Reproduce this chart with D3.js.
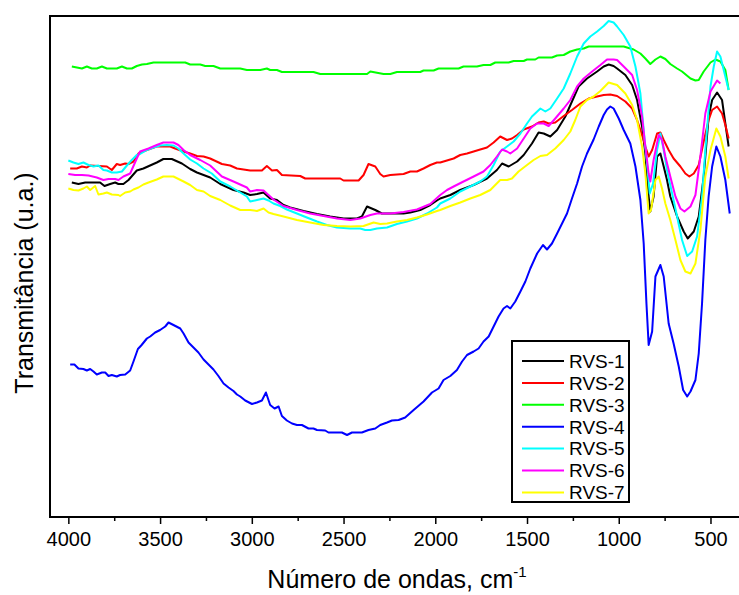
<!DOCTYPE html>
<html>
<head>
<meta charset="utf-8">
<script src="https://cdn.jsdelivr.net/npm/d3@7"></script>
<style>
  body { margin: 0; background: #fff; }
  svg { display: block; }
  text { font-family: "Liberation Sans", Arial, sans-serif; fill: #000; }
</style>
</head>
<body>
<div id="chart"></div>
<script>
// FTIR spectra, [wavenumber cm-1, transmittance u.a.]
var rvs1 = [[3981,66.9],[3945,66.6],[3908,66.9],[3827,66.9],[3803,66.2],[3772,66.6],[3745,66.9],[3727,66.6],[3700,66.6],[3672,67.4],[3627,69.3],[3591,69.7],[3518,70.9],[3482,71.6],[3436,71.6],[3381,70.7],[3336,69.6],[3299,68.9],[3227,67.9],[3172,66.6],[3100,65.4],[3045,64.9],[3009,64.4],[2972,64.6],[2936,64.9],[2918,64.3],[2900,63.7],[2863,63.4],[2827,62.4],[2791,61.9],[2718,61.2],[2645,60.6],[2573,60.1],[2500,59.7],[2427,59.7],[2400,60.1],[2372,62.1],[2327,61.4],[2291,60.7],[2245,60.7],[2173,60.7],[2136,60.9],[2082,61.4],[2027,62.4],[1991,63.3],[1973,63.7],[1918,64.4],[1864,65.4],[1791,66.4],[1718,67.7],[1664,69.4],[1636,70.7],[1600,70.1],[1554,71.1],[1518,72.4],[1473,74.7],[1437,76.9],[1409,76.7],[1373,76.1],[1336,77.4],[1291,80.1],[1255,83.1],[1219,86.1],[1173,87.7],[1118,89.1],[1082,90.1],[1055,90.5],[1028,90.2],[1009,89.7],[964,88.4],[927,86.4],[900,83.4],[873,78.1],[855,72.7],[837,64.1],[828,61.1],[810,64.1],[791,72.1],[773,72.7],[755,70.1],[737,67.4],[719,64.1],[682,60.1],[646,57.1],[624,55.7],[591,57.1],[564,60.1],[537,68.1],[510,80.1],[491,83.4],[464,84.9],[437,83.4],[419,78.7],[401,74.1]];

var rvs2 = [[3990,69.7],[3954,69.7],[3926,70.1],[3899,69.9],[3881,70.3],[3790,70.1],[3763,69.4],[3736,70.6],[3718,70.4],[3690,70.7],[3672,70.6],[3645,71.1],[3618,72.7],[3572,73.4],[3518,74.1],[3445,74.1],[3418,73.7],[3372,73.1],[3336,72.7],[3299,72.2],[3263,72.1],[3227,71.7],[3163,70.6],[3118,70.3],[3081,69.7],[3027,69.4],[3009,69.3],[2945,69.3],[2918,70.2],[2890,69.3],[2863,69.4],[2836,68.4],[2736,68.2],[2709,67.7],[2518,67.7],[2500,67.3],[2418,67.3],[2391,68.4],[2364,70.6],[2327,70.1],[2300,68.6],[2282,68.1],[2245,68.4],[2173,68.6],[2136,69.1],[2100,69.1],[2064,69.7],[2027,70.4],[1991,70.9],[1973,70.9],[1900,71.7],[1864,72.4],[1827,72.7],[1791,73.1],[1755,73.5],[1718,73.9],[1682,74.9],[1646,76.1],[1609,75.4],[1582,75.7],[1554,76.4],[1518,77.5],[1473,78.1],[1437,78.9],[1409,79.1],[1382,78.7],[1346,78.9],[1300,80.2],[1255,81.4],[1209,82.7],[1164,83.7],[1118,84.1],[1082,84.4],[1046,84.5],[1009,84.2],[964,83.1],[927,81.7],[900,79.4],[873,76.4],[855,74.1],[837,72.1],[818,73.4],[791,76.7],[773,76.9],[755,75.4],[728,73.4],[701,71.7],[664,70.1],[637,68.7],[615,68.1],[591,68.7],[564,70.4],[537,75.1],[510,79.4],[491,81.4],[464,82.1],[437,80.7],[419,78.4],[401,75.7]];

var rvs3 = [[3981,90.1],[3926,89.7],[3899,90.1],[3872,89.7],[3845,89.7],[3817,90.1],[3790,89.7],[3736,89.7],[3708,90.1],[3681,89.7],[3654,89.7],[3627,90.2],[3599,90.5],[3572,90.6],[3536,90.9],[3363,90.9],[3336,90.5],[3281,90.5],[3254,90.2],[3209,90.2],[3172,89.7],[3063,89.7],[3027,89.4],[2954,89.4],[2918,89.7],[2900,89.4],[2863,89.4],[2836,89.0],[2664,89.0],[2627,88.6],[2372,88.6],[2354,89.1],[2282,88.6],[2245,88.6],[2209,89.0],[2082,89.0],[2064,89.3],[2009,89.3],[1982,89.7],[1873,89.7],[1846,90.1],[1773,90.1],[1737,90.4],[1700,90.4],[1673,90.9],[1600,90.9],[1573,91.2],[1518,91.2],[1500,91.5],[1455,91.5],[1437,91.9],[1364,91.9],[1336,92.3],[1300,92.4],[1264,93.1],[1227,93.5],[1191,93.7],[1164,94.1],[973,94.1],[919,93.5],[882,92.7],[855,91.7],[828,90.6],[800,91.5],[773,92.1],[746,91.6],[719,90.6],[682,89.7],[655,89.1],[609,87.7],[582,87.3],[564,87.4],[537,89.1],[500,90.9],[473,91.5],[446,91.1],[419,89.4],[401,85.4]];

var rvs4 = [[3990,30.5],[3967,30.5],[3945,29.7],[3918,29.6],[3899,29.3],[3881,29.6],[3863,29.1],[3845,28.5],[3817,28.9],[3799,28.9],[3781,28.2],[3763,28.4],[3736,28.1],[3718,28.4],[3690,28.5],[3663,29.3],[3645,31.1],[3621,33.6],[3603,34.3],[3572,35.7],[3554,36.1],[3527,36.9],[3500,37.4],[3472,38.1],[3454,38.9],[3427,38.4],[3390,37.7],[3372,36.7],[3345,34.9],[3318,33.9],[3291,32.9],[3263,31.5],[3236,30.5],[3209,29.5],[3182,28.2],[3154,26.7],[3127,25.9],[3100,25.2],[3081,24.5],[3063,24.1],[3036,23.3],[2999,22.6],[2972,22.9],[2945,23.3],[2923,24.9],[2900,22.4],[2876,21.7],[2854,22.1],[2836,20.2],[2809,19.3],[2781,18.7],[2754,18.4],[2727,18.4],[2691,17.7],[2664,17.7],[2645,17.4],[2600,17.3],[2582,16.9],[2509,16.9],[2481,16.4],[2454,16.9],[2400,16.9],[2364,17.4],[2327,17.7],[2300,18.4],[2263,18.9],[2236,19.3],[2200,19.4],[2164,19.9],[2118,21.4],[2064,23.1],[2018,24.9],[1982,25.7],[1955,27.4],[1918,28.2],[1882,29.4],[1854,31.1],[1827,32.4],[1791,33.1],[1764,33.7],[1737,35.1],[1709,36.1],[1682,38.1],[1655,40.1],[1628,41.7],[1609,42.2],[1591,41.7],[1564,43.1],[1536,45.1],[1509,47.1],[1482,49.7],[1445,52.7],[1413,54.4],[1391,53.5],[1364,54.7],[1336,56.7],[1309,58.7],[1282,60.7],[1255,63.7],[1227,66.7],[1200,70.1],[1173,72.7],[1155,74.1],[1137,75.5],[1109,78.1],[1082,80.4],[1064,81.5],[1046,82.1],[1028,81.7],[1000,79.7],[973,77.4],[937,74.7],[909,70.1],[882,63.4],[864,54.7],[849,42.7],[837,34.4],[818,37.1],[800,48.1],[773,50.4],[755,48.1],[728,38.7],[701,34.7],[673,30.1],[649,25.4],[627,24.1],[609,25.1],[582,27.4],[564,32.7],[546,42.7],[528,55.4],[510,64.1],[491,70.1],[468,74.1],[446,72.1],[419,67.4],[395,60.7]];

var rvs5 = [[4000,71.3],[3972,70.9],[3945,70.6],[3918,70.9],[3890,70.4],[3863,70.1],[3836,70.3],[3809,69.4],[3790,69.3],[3763,68.9],[3736,68.9],[3708,69.1],[3681,70.3],[3654,71.4],[3627,72.4],[3609,72.6],[3572,73.4],[3536,73.9],[3500,74.3],[3463,74.4],[3427,74.3],[3400,73.7],[3372,72.7],[3336,71.5],[3299,70.7],[3263,69.7],[3218,68.7],[3172,67.1],[3118,66.1],[3063,64.9],[3027,64.1],[3009,63.1],[2972,63.4],[2936,63.7],[2909,63.3],[2882,62.7],[2845,62.2],[2809,61.5],[2754,60.7],[2700,59.9],[2645,59.1],[2591,58.4],[2536,57.9],[2463,57.7],[2409,57.7],[2382,57.4],[2354,57.4],[2318,57.7],[2263,57.9],[2209,58.6],[2154,59.1],[2100,59.7],[2045,60.7],[1991,61.9],[1973,62.7],[1918,63.7],[1864,65.1],[1809,66.1],[1755,67.1],[1718,68.1],[1682,70.4],[1646,73.1],[1609,74.1],[1573,75.1],[1536,76.7],[1500,78.7],[1473,80.1],[1427,81.7],[1400,81.1],[1373,81.7],[1336,83.7],[1300,85.7],[1264,88.7],[1227,92.1],[1191,94.7],[1155,96.1],[1118,97.1],[1082,98.2],[1055,99.2],[1028,98.9],[1009,98.1],[973,96.4],[937,94.1],[909,90.1],[882,84.7],[864,77.4],[846,70.7],[831,64.7],[813,66.7],[791,73.4],[773,76.7],[755,73.4],[737,69.4],[709,64.7],[682,60.1],[655,55.4],[627,52.2],[600,53.1],[573,56.1],[546,64.1],[528,73.4],[500,86.1],[482,90.1],[464,93.1],[446,92.1],[419,88.1],[401,85.4]];

var rvs6 = [[4000,68.6],[3963,68.4],[3926,68.4],[3890,68.3],[3845,67.9],[3809,67.4],[3781,67.6],[3745,67.6],[3727,67.4],[3700,68.1],[3663,68.7],[3627,71.7],[3609,73.1],[3563,73.7],[3518,74.4],[3482,74.9],[3427,74.9],[3400,74.4],[3372,73.4],[3336,72.4],[3281,71.4],[3227,70.3],[3163,68.1],[3100,67.1],[3027,65.9],[3009,65.1],[2972,65.4],[2936,65.3],[2909,64.4],[2882,63.5],[2827,62.2],[2754,61.4],[2682,60.7],[2609,60.2],[2536,59.7],[2463,59.4],[2409,59.7],[2354,60.4],[2318,60.7],[2245,60.7],[2173,61.0],[2100,61.5],[2027,62.6],[1973,64.4],[1936,65.4],[1900,66.1],[1846,67.1],[1791,68.1],[1737,69.1],[1700,70.4],[1664,72.1],[1636,73.5],[1609,73.1],[1591,72.7],[1554,73.7],[1518,75.7],[1482,77.7],[1445,78.7],[1409,78.7],[1382,78.2],[1346,79.7],[1300,81.7],[1264,83.4],[1227,86.1],[1191,87.7],[1145,89.1],[1100,90.4],[1064,91.5],[1028,91.5],[1009,91.4],[973,90.1],[927,88.4],[900,85.4],[873,80.1],[855,74.1],[837,68.7],[828,67.1],[810,71.4],[782,76.4],[764,75.4],[746,72.1],[719,68.1],[691,64.1],[664,61.7],[642,61.1],[609,62.1],[582,64.4],[555,72.1],[528,80.7],[500,85.1],[464,87.3],[446,86.7]];

var rvs7 = [[4000,65.7],[3972,65.4],[3945,65.3],[3918,65.7],[3899,66.1],[3881,65.4],[3854,66.2],[3836,64.5],[3809,64.7],[3790,64.9],[3763,64.5],[3727,64.4],[3718,64.2],[3690,64.9],[3663,65.1],[3645,65.5],[3618,65.9],[3591,66.5],[3563,66.9],[3518,67.5],[3482,68.1],[3427,68.1],[3372,67.1],[3336,66.4],[3299,65.4],[3263,65.1],[3227,64.2],[3172,63.4],[3118,62.3],[3063,61.4],[3009,61.4],[2972,61.2],[2936,61.7],[2909,60.9],[2882,60.6],[2827,60.1],[2754,59.4],[2682,58.9],[2609,58.4],[2536,58.2],[2463,58.1],[2391,58.2],[2336,58.9],[2300,58.6],[2263,58.7],[2209,59.1],[2154,59.4],[2100,59.9],[2045,60.5],[1991,61.2],[1973,61.4],[1918,62.2],[1864,62.9],[1809,63.7],[1755,64.4],[1700,65.4],[1646,67.4],[1609,67.4],[1582,67.7],[1546,69.1],[1500,70.4],[1464,71.4],[1427,72.2],[1391,72.4],[1346,73.7],[1300,75.4],[1264,77.1],[1237,79.4],[1209,82.1],[1173,83.4],[1137,84.1],[1100,85.2],[1055,86.9],[1028,86.6],[1009,86.4],[964,84.7],[927,82.4],[900,79.4],[873,74.1],[855,68.7],[837,60.7],[824,61.4],[800,67.4],[782,68.1],[764,65.7],[746,62.7],[719,59.4],[691,55.4],[664,51.4],[637,49.1],[609,48.7],[582,50.7],[555,57.4],[528,68.1],[500,73.4],[468,77.7],[446,76.1],[419,72.1],[401,67.7]];

var seriesNames = ["RVS-1", "RVS-2", "RVS-3", "RVS-4", "RVS-5", "RVS-6", "RVS-7"];
var seriesColors = ["#000000", "#ff0000", "#00ff00", "#0000ff", "#00ffff", "#ff00ff", "#ffff00"];
var seriesData = [rvs1, rvs2, rvs3, rvs4, rvs5, rvs6, rvs7];

var majorTicks = [4000, 3500, 3000, 2500, 2000, 1500, 1000, 500];
var minorTicks = [3750, 3250, 2750, 2250, 1750, 1250, 750];

var width = 739;
var height = 595;
var plotLeft = 50, plotRight = 738, plotTop = 16, plotBottom = 517;

var svg = d3.select("#chart")
    .append("svg")
        .attr("width", width)
        .attr("height", height);

var x = d3.scaleLinear()
    .domain([4100, 350])
    .range([plotLeft, plotRight]);

var y = d3.scaleLinear()
    .domain([0, 100])
    .range([plotBottom, plotTop + 1]);

// spectra
var line = d3.line()
    .x(d => x(d[0]))
    .y(d => y(d[1]));

svg.append("g").selectAll("path")
    .data(seriesData)
    .enter().append("path")
        .attr("d", line)
        .attr("fill", "none")
        .attr("stroke", (d, i) => seriesColors[i])
        .attr("stroke-width", 2)
        .attr("stroke-linejoin", "round");

// frame (right side runs off the picture)
svg.append("rect")
    .attr("x", plotLeft)
    .attr("y", plotTop)
    .attr("width", 692)
    .attr("height", plotBottom - plotTop)
    .attr("fill", "none")
    .attr("stroke", "#000")
    .attr("stroke-width", 2);

// x axis, major and minor ticks
var xAxis = d3.axisBottom(x)
    .tickValues(majorTicks)
    .tickSize(7)
    .tickPadding(8)
    .tickFormat(d3.format("d"));

var gx = svg.append("g")
    .attr("transform", "translate(0," + plotBottom + ")")
    .call(xAxis);
gx.select(".domain").remove();
gx.selectAll(".tick line").attr("stroke-width", 1.5);
gx.selectAll(".tick text")
    .style("font-family", "'Liberation Sans', Arial, sans-serif")
    .style("font-size", "20px");

var gxm = svg.append("g")
    .attr("transform", "translate(0," + plotBottom + ")")
    .call(d3.axisBottom(x).tickValues(minorTicks).tickSize(4).tickFormat(""));
gxm.select(".domain").remove();
gxm.selectAll(".tick line").attr("stroke-width", 1.5);

// axis titles
var xt = svg.append("text")
    .attr("x", 397)
    .attr("y", 588)
    .attr("text-anchor", "middle")
    .style("font-size", "25px");
xt.append("tspan").text("Número de ondas, cm");
xt.append("tspan").attr("dy", -11).style("font-size", "15px").text("-1");

svg.append("text")
    .attr("transform", "translate(33,283) rotate(-90)")
    .attr("text-anchor", "middle")
    .style("font-size", "25px")
    .text("Transmitância (u.a.)");

// legend
var legend = svg.append("g").attr("transform", "translate(512,341)");
legend.append("rect")
    .attr("width", 117)
    .attr("height", 161)
    .attr("fill", "#fff")
    .attr("stroke", "#000")
    .attr("stroke-width", 2);

var item = legend.selectAll("g.item")
    .data(seriesNames)
    .enter().append("g")
        .attr("class", "item")
        .attr("transform", (d, i) => "translate(0," + (20 + i * 21.9) + ")");

item.append("line")
    .attr("x1", 10)
    .attr("x2", 52)
    .attr("stroke", (d, i) => seriesColors[i])
    .attr("stroke-width", 2);

item.append("text")
    .attr("x", 57)
    .attr("dy", "0.36em")
    .style("font-size", "19px")
    .text(d => d);
</script>
</body>
</html>
